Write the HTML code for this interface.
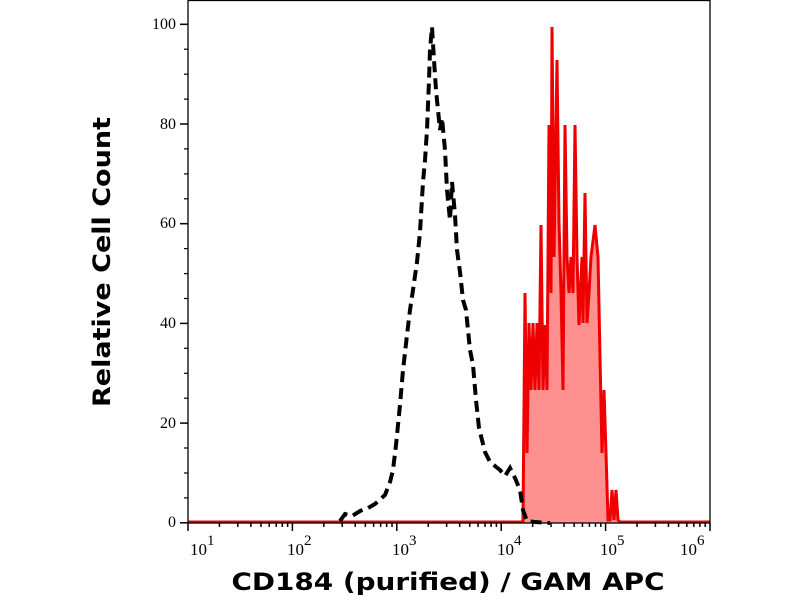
<!DOCTYPE html>
<html><head><meta charset="utf-8"><style>
html,body{margin:0;padding:0;background:#fff;}
svg{display:block;}
</style></head><body>
<svg width="800" height="600" viewBox="0 0 800 600" xmlns="http://www.w3.org/2000/svg">
<rect x="0" y="0" width="800" height="600" fill="#fff"/>
<polygon fill="#ff9090" stroke="none" points="523,523 523,520 525,293 527,453 529,323 531,390 533,323 535,390 537,323 539,390 541,225 543,390 545,325 547,390 549,125 551,293 552,27 554,257 557,60 559,223 561,292 563,390 565,125 567,257 569,293 571,257 573,293 575,125 577,257 579,325 582,257 583,323 585,193 587,323 589,293 591,257 595,225 598,257 600,357 602,453 604,390 606,453 608,520 610,520 612,490 614,520 616,490 618,520 618,523"/>
<polyline fill="none" stroke="#ee0000" stroke-width="3" stroke-linejoin="miter" points="188,522 523,522 523,520 525,293 527,453 529,323 531,390 533,323 535,390 537,323 539,390 541,225 543,390 545,325 547,390 549,125 551,293 552,27 554,257 557,60 559,223 561,292 563,390 565,125 567,257 569,293 571,257 573,293 575,125 577,257 579,325 582,257 583,323 585,193 587,323 589,293 591,257 595,225 598,257 600,357 602,453 604,390 606,453 608,520 610,520 612,490 614,520 616,490 618,520 620,522 710,522"/>
<polyline fill="none" stroke="#000" stroke-width="4" stroke-dasharray="11 6" points="340,521 345,514 352,516 360,511 368,508 375,504 385,495 390,482 393,470 396,445 400,405 403,370 407,335 410,310 413,290 417,262 420,232 423,182 425,160 427,130 429,80 430,50 432,27 434,60 436,90 438,110 440,130 442,118 445,150 447,190 450,220 452,182 455,215 457,250 460,272 463,300 466,310 470,350 473,365 476,400 479,428 482,440 485,452 490,462 495,466 500,470 505,476 510,468 515,478 520,490 523,510 527,521 535,522 550,523"/>
<rect x="188" y="0.5" width="522" height="522.5" fill="none" stroke="#000" stroke-width="1.3"/>
<g stroke="#000" stroke-width="1.5">
<line x1="180" y1="522.8" x2="188" y2="522.8"/>
<line x1="180" y1="423.1" x2="188" y2="423.1"/>
<line x1="180" y1="323.4" x2="188" y2="323.4"/>
<line x1="180" y1="223.7" x2="188" y2="223.7"/>
<line x1="180" y1="124" x2="188" y2="124"/>
<line x1="180" y1="24.3" x2="188" y2="24.3"/>
</g>
<g stroke="#000" stroke-width="1.2">
<line x1="184" y1="497.9" x2="188" y2="497.9"/><line x1="184" y1="473" x2="188" y2="473"/><line x1="184" y1="448" x2="188" y2="448"/>
<line x1="184" y1="398.2" x2="188" y2="398.2"/><line x1="184" y1="373.3" x2="188" y2="373.3"/><line x1="184" y1="348.3" x2="188" y2="348.3"/>
<line x1="184" y1="298.5" x2="188" y2="298.5"/><line x1="184" y1="273.6" x2="188" y2="273.6"/><line x1="184" y1="248.6" x2="188" y2="248.6"/>
<line x1="184" y1="198.8" x2="188" y2="198.8"/><line x1="184" y1="173.9" x2="188" y2="173.9"/><line x1="184" y1="148.9" x2="188" y2="148.9"/>
<line x1="184" y1="99.1" x2="188" y2="99.1"/><line x1="184" y1="74.2" x2="188" y2="74.2"/><line x1="184" y1="49.2" x2="188" y2="49.2"/>
</g>
<g font-family="Liberation Serif, serif" font-size="16" fill="#000" text-anchor="end">
<text x="176" y="527">0</text>
<text x="176" y="428">20</text>
<text x="176" y="328">40</text>
<text x="176" y="228">60</text>
<text x="176" y="129">80</text>
<text x="176" y="29">100</text>
</g>
<g id="xt" stroke="#000" stroke-width="1.5"></g>
<script>
(function(){
var g=document.getElementById('xt'),ns='http://www.w3.org/2000/svg';
var x0=188,dw=104.4;
for(var d=1;d<=6;d++){
 for(var m=1;m<10;m++){
  if(d==6&&m>1)break;
  var x=x0+dw*(d-1+Math.log10(m));
  var l=document.createElementNS(ns,'line');
  l.setAttribute('x1',x);l.setAttribute('x2',x);
  l.setAttribute('y1',523);l.setAttribute('y2',m==1?531:527);
  g.appendChild(l);
 }
}
})();
</script>
<g font-family="Liberation Serif, serif" font-size="17" fill="#000">
<text x="190" y="555">10<tspan dy="-10" font-size="15">1</tspan></text>
<text x="287" y="555">10<tspan dy="-10" font-size="15">2</tspan></text>
<text x="392" y="555">10<tspan dy="-10" font-size="15">3</tspan></text>
<text x="497" y="555">10<tspan dy="-10" font-size="15">4</tspan></text>
<text x="600" y="555">10<tspan dy="-10" font-size="15">5</tspan></text>
<text x="680" y="555">10<tspan dy="-10" font-size="15">6</tspan></text>
</g>
<text x="448" y="590" text-anchor="middle" font-family="DejaVu Sans, sans-serif" font-weight="bold" font-size="24" textLength="433" lengthAdjust="spacingAndGlyphs">CD184 (purified) / GAM APC</text>
<text transform="translate(110,262) rotate(-90)" text-anchor="middle" font-family="DejaVu Sans, sans-serif" font-weight="bold" font-size="24" textLength="290" lengthAdjust="spacingAndGlyphs">Relative Cell Count</text>
</svg>
</body></html>
